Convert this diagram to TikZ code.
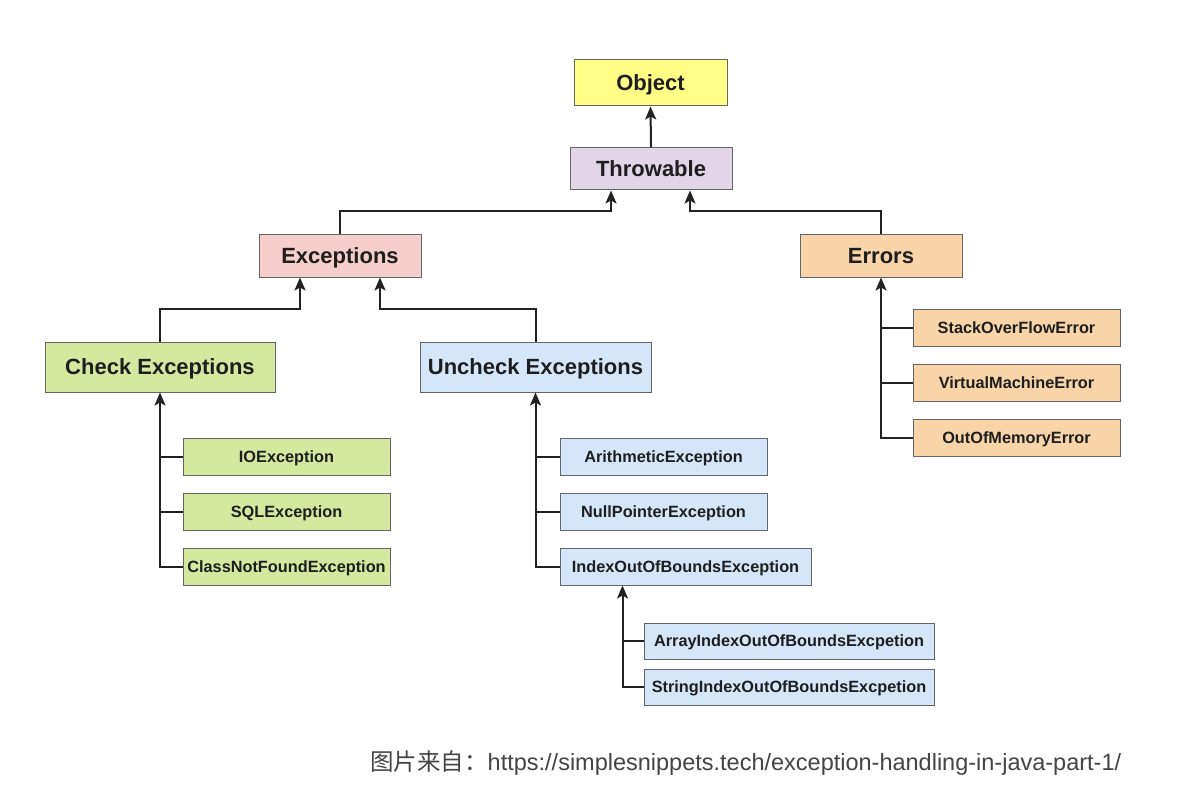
\documentclass[tikz,border=0pt]{standalone}
\usepackage{fontspec}
\setmainfont{Liberation Sans}
\newfontfamily\cjk{Noto Sans CJK SC}
\usetikzlibrary{arrows.meta}
\definecolor{cyellow}{HTML}{FFFF88}
\definecolor{cpurple}{HTML}{E1D5E7}
\definecolor{cred}{HTML}{F8CECC}
\definecolor{corange}{HTML}{F9D4A8}
\definecolor{cgreen}{HTML}{D5E8A0}
\definecolor{cblue}{HTML}{D6E6FA}
\definecolor{cborder}{HTML}{666666}
\definecolor{cline}{HTML}{222222}
\definecolor{ctext}{HTML}{1E1E1E}
\definecolor{ccap}{HTML}{444444}
\tikzset{
  bx/.style={draw=cborder, line width=1pt, rectangle, inner sep=0pt, text=ctext, text depth=0pt},
  big/.style={bx, minimum width=162, minimum height=42, text height=15.8pt, font=\fontsize{22}{26}\selectfont\bfseries},
  small/.style={bx, minimum width=207, minimum height=37, text height=11.7pt, font=\fontsize{16.3}{19}\selectfont\bfseries},
  conn/.style={draw=cline, line width=2pt},
  arr/.style={conn, -{Stealth[length=13pt,width=11pt,inset=3pt]}},
}
\begin{document}
\begin{tikzpicture}[x=1pt,y=-1pt]
\useasboundingbox[fill=white] (0,0) rectangle (1182,810);
% top
\node[big, fill=cyellow, minimum width=153, minimum height=46] (obj) at (650.5,83) {Object};
\node[big, fill=cpurple] (thr) at (651,169) {Throwable};
\node[big, fill=cred] (exc) at (340,256) {Exceptions};
\node[big, fill=corange] (err) at (881,256) {Errors};
\node[big, fill=cgreen, minimum width=230, minimum height=50] (chk) at (160,367) {Check Exceptions};
\node[big, fill=cblue, minimum width=231, minimum height=50] (unc) at (535.5,367) {Uncheck Exceptions};
% checked children
\node[small, fill=cgreen] (io) at (286.5,456.5) {IOException};
\node[small, fill=cgreen] (sql) at (286.5,511.5) {SQLException};
\node[small, fill=cgreen] (cnf) at (286.5,566.5) {ClassNotFoundException};
% unchecked children
\node[small, fill=cblue] (ari) at (663.5,456.5) {ArithmeticException};
\node[small, fill=cblue] (npe) at (663.5,511.5) {NullPointerException};
\node[small, fill=cblue, minimum width=251] (idx) at (685.5,566.5) {IndexOutOfBoundsException};
\node[small, fill=cblue, minimum width=290, minimum height=36] (arr) at (789,641) {ArrayIndexOutOfBoundsExcpetion};
\node[small, fill=cblue, minimum width=290, minimum height=36] (str) at (789,687) {StringIndexOutOfBoundsExcpetion};
% errors children
\node[small, fill=corange] (soe) at (1016.5,327.5) {StackOverFlowError};
\node[small, fill=corange] (vme) at (1016.5,382.5) {VirtualMachineError};
\node[small, fill=corange] (oom) at (1016.5,437.5) {OutOfMemoryError};
\coordinate (idxt) at ([xshift=-63]idx.south);
% connectors
\draw[arr] (thr.north) -- (obj.south);
\draw[arr] (exc.north) -- ++(0,-23) -| ([xshift=-40]thr.south);
\draw[arr] (err.north) -- ++(0,-23) -| ([xshift=39]thr.south);
\draw[arr] (chk.north) -- ++(0,-33) -| ([xshift=-40]exc.south);
\draw[arr] (unc.north) -- ++(0,-33) -| ([xshift=40]exc.south);
\draw[arr] (cnf.west) -| (chk.south);
\draw[conn] (io.west) -- (io.west -| chk.south);
\draw[conn] (sql.west) -- (sql.west -| chk.south);
\draw[arr] (idx.west) -| (unc.south);
\draw[conn] (ari.west) -- (ari.west -| unc.south);
\draw[conn] (npe.west) -- (npe.west -| unc.south);
\draw[arr] (str.west) -| (idxt);
\draw[conn] (arr.west) -- (arr.west -| idxt);
\draw[arr] (oom.west) -| (err.south);
\draw[conn] (soe.west) -- (soe.west -| err.south);
\draw[conn] (vme.west) -- (vme.west -| err.south);
% caption
\node[anchor=west, inner sep=0pt, text=ccap, font=\fontsize{23.5}{26}\selectfont] (cap) at (370,763) {{\cjk 图片来自：}https://simplesnippets.tech/exception-handling-in-java-part-1/};
\end{tikzpicture}
\end{document}
